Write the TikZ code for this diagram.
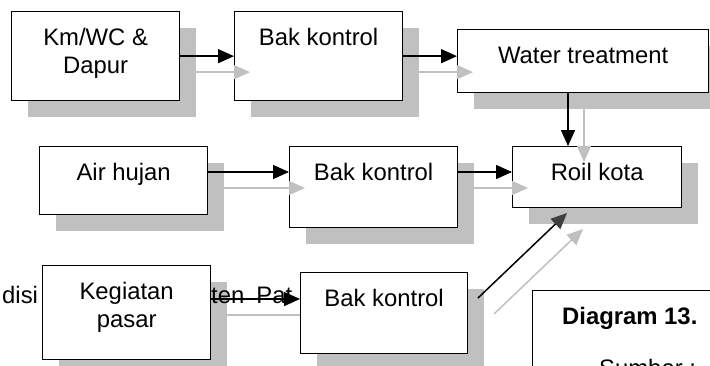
\documentclass[tikz,border=0pt]{standalone}
\usepackage{fontspec}
\setmainfont{Liberation Sans}
\usetikzlibrary{arrows.meta,shadows}
\definecolor{shade}{HTML}{C0C0C0}
\begin{document}
\begin{tikzpicture}[x=1pt,y=-1pt,
  box/.style={draw, fill=white, line width=1.3pt, inner sep=0pt, anchor=north west,
    drop shadow={shadow xshift=16pt, shadow yshift=-16pt, fill=shade, opacity=1}},
  plainbox/.style={draw, fill=white, line width=1.3pt, inner sep=0pt, anchor=north west},
  txt/.style={anchor=base, inner sep=0pt, font=\fontsize{23.85pt}{28pt}\selectfont},
  lbl/.style={txt, yshift=-34pt},
  flow/.style={line width=1.5pt, -{Triangle[length=16pt,width=14pt]}},
  ghost/.style={flow, draw=shade, transform canvas={shift={(16,16)}}},
]
\useasboundingbox (0,0) rectangle (710,365);
\clip (0,0) rectangle (710,365);

% upper rows of boxes
\node[box, minimum width=168pt, minimum height=89pt] (kmwc) at (11,11) {};
\node[box, minimum width=168pt, minimum height=89pt] (bak1) at (234,11) {};
\node[box, minimum width=251pt, minimum height=63pt] (water) at (457,29) {};
\node[box, minimum width=168pt, minimum height=68pt] (hujan) at (39,146) {};
\node[box, minimum width=168pt, minimum height=81pt] (bak2) at (289,146) {};
\node[box, minimum width=169pt, minimum height=61pt] (roil) at (512,146) {};

\node[lbl] at (kmwc.north) {\begin{tabular}[t]{@{}c@{}}Km/WC \&\\Dapur\end{tabular}};
\node[lbl] at (bak1.north) {Bak kontrol};
\node[lbl] at (water.north) {Water treatment};
\node[lbl] at (hujan.north) {Air hujan};
\node[lbl] at (bak2.north) {Bak kontrol};
\node[lbl] at (roil.north) {Roil kota};

% market box and the paragraph text running behind it
\node[box, minimum width=168pt, minimum height=94pt] (pasar) at (42,265) {};
\node[txt, anchor=base west] (para1) at (2,303) {disi};
\node[txt, anchor=base west] (para2) at (211,303) {ten\hspace{12pt}Pat};
\node[lbl] at (pasar.north) {\begin{tabular}[t]{@{}c@{}}Kegiatan\\pasar\end{tabular}};

% rows and columns of the connectors
\coordinate (row2) at (0,172);
\coordinate (row3) at (0,299);
\coordinate (col5) at (568,0);
\coordinate (d0) at (478,298);
\coordinate (d1) at (567,213);

% grey copies of the arrows
\draw[ghost] (kmwc.east) -- (kmwc.east -| bak1.west);
\draw[ghost] (bak1.east) -- (bak1.east -| water.west);
\draw[ghost] (hujan.east |- row2) -- (bak2.west |- row2);
\draw[ghost] (bak2.east |- row2) -- (roil.west |- row2);
\draw[ghost] (water.south -| col5) -- (roil.north -| col5);
\draw[ghost] (d0) -- (d1);
\draw[ghost] (pasar.east |- row3) -- ++(90,0);

\node[box, minimum width=167pt, minimum height=81pt] (bak3) at (300,272) {};
\node[lbl] at (bak3.north) {Bak kontrol};

% black arrows
\draw[flow] (kmwc.east) -- (kmwc.east -| bak1.west);
\draw[flow] (bak1.east) -- (bak1.east -| water.west);
\draw[flow] (hujan.east |- row2) -- (bak2.west |- row2);
\draw[flow] (bak2.east |- row2) -- (roil.west |- row2);
\draw[flow] (water.south -| col5) -- (roil.north -| col5);
\draw[flow] (pasar.east |- row3) -- (bak3.west |- row3);
\draw[line width=1.5pt, -{Triangle[length=16pt,width=14pt,color=black!75]}] (d0) -- (d1);

% caption box
\node[plainbox, minimum width=250pt, minimum height=120pt] (cap) at (532,290) {};
\node[txt, anchor=base west, font=\fontsize{23.85pt}{28pt}\selectfont\bfseries] (captitle) at (562,324) {Diagram 13.};
\node[txt, anchor=base west] (capsrc) at (599,376) {Sumber :};
\end{tikzpicture}
\end{document}
